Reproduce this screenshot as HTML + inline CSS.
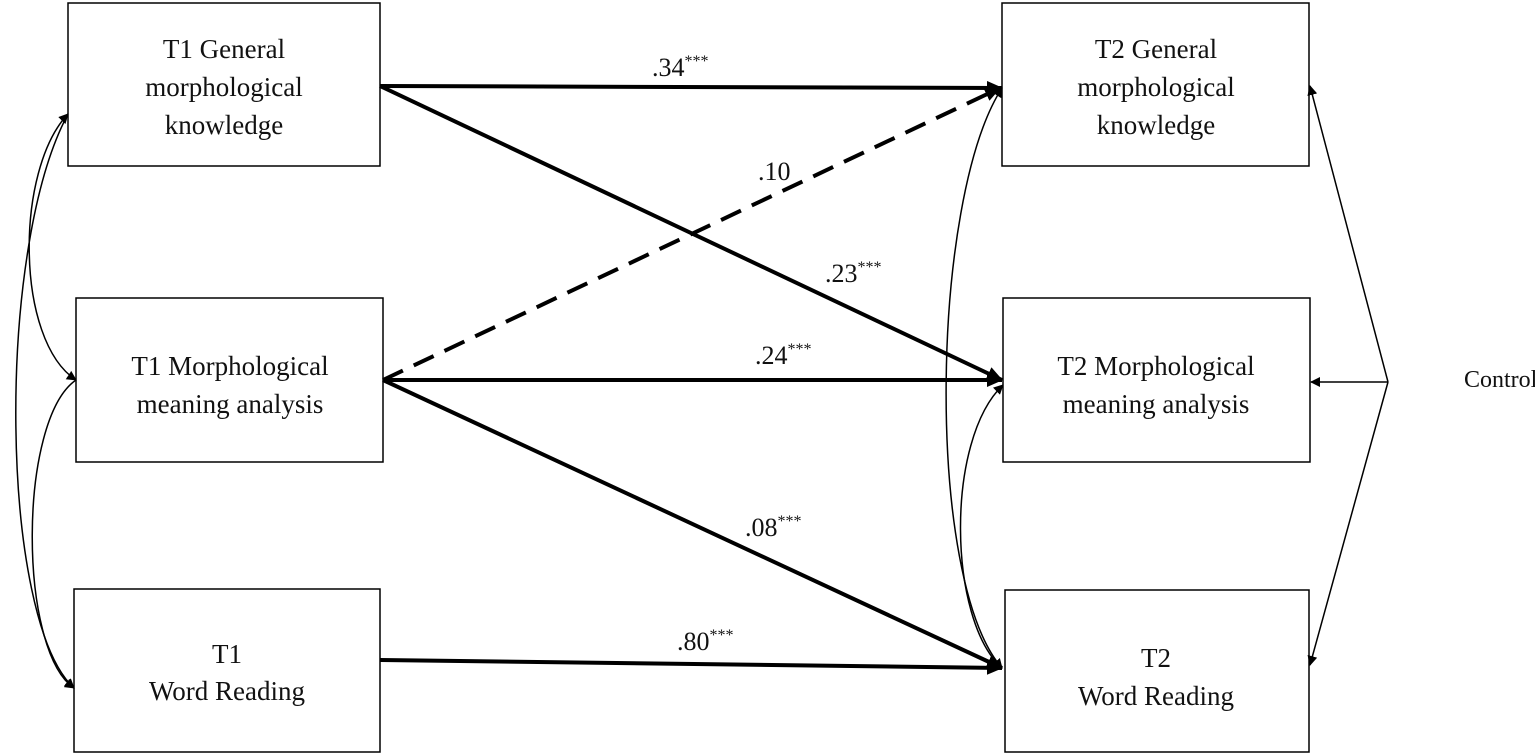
<!DOCTYPE html>
<html><head><style>
body{margin:0;background:#fff}
svg{display:block}
text{font-family:"Liberation Serif",serif;fill:#111}
</style></head><body>
<svg width="1535" height="755" viewBox="0 0 1535 755">
<defs>
<marker id="a" markerWidth="10" markerHeight="10" refX="9" refY="5" orient="auto-start-reverse" markerUnits="userSpaceOnUse"><path d="M0,0 L10,5 L0,10 z" fill="#000"/></marker>
<marker id="b" markerWidth="16" markerHeight="14" refX="15" refY="7" orient="auto" markerUnits="userSpaceOnUse"><path d="M0,0 L16,7 L0,14 z" fill="#000"/></marker>
</defs>
<g fill="#fff" stroke="#000" stroke-width="1.5">
<rect x="68" y="3" width="312" height="163"/>
<rect x="76" y="298" width="307" height="164"/>
<rect x="74" y="589" width="306" height="163"/>
<rect x="1002" y="3" width="307" height="163"/>
<rect x="1003" y="298" width="307" height="164"/>
<rect x="1005" y="590" width="304" height="162"/>
</g>
<g font-size="27" text-anchor="middle">
<text x="224" y="58">T1 General</text><text x="224" y="96">morphological</text><text x="224" y="134">knowledge</text>
<text x="230" y="375">T1 Morphological</text><text x="230" y="413">meaning  analysis</text>
<text x="227" y="663">T1</text><text x="227" y="700">Word Reading</text>
<text x="1156" y="58">T2 General</text><text x="1156" y="96">morphological</text><text x="1156" y="134">knowledge</text>
<text x="1156" y="375">T2 Morphological</text><text x="1156" y="413">meaning  analysis</text>
<text x="1156" y="667">T2</text><text x="1156" y="705">Word Reading</text>
</g>
<text x="1464" y="387" font-size="24">Control<tspan font-size="14" dy="-8">a</tspan></text>
<g stroke="#000" stroke-width="4" fill="none" marker-end="url(#b)">
<line x1="380" y1="86" x2="1002" y2="88"/>
<line x1="380" y1="86" x2="1002" y2="380"/>
<line x1="383" y1="380" x2="1002" y2="380"/>
<line x1="383" y1="380" x2="1002" y2="668"/>
<line x1="380" y1="660" x2="1002" y2="668"/>
<line x1="383" y1="380" x2="1000" y2="88" stroke-dasharray="22,12"/>
</g>
<g font-size="26">
<text x="652" y="76">.34<tspan font-size="16" dy="-10">***</tspan></text>
<text x="758" y="180">.10</text>
<text x="825" y="282">.23<tspan font-size="16" dy="-10">***</tspan></text>
<text x="755" y="364">.24<tspan font-size="16" dy="-10">***</tspan></text>
<text x="745" y="536">.08<tspan font-size="16" dy="-10">***</tspan></text>
<text x="677" y="650">.80<tspan font-size="16" dy="-10">***</tspan></text>
</g>
<g stroke="#000" stroke-width="1.5" fill="none">
<path d="M68,114 C15,170 15,340 76,380" marker-end="url(#a)" marker-start="url(#a)"/>
<path d="M76,380 C18,420 18,650 74,688" marker-end="url(#a)"/>
<path d="M68,114 C-5,250 0,620 74,688" marker-end="url(#a)"/>
<path d="M1002,88 C930,200 925,580 1002,668" marker-end="url(#a)" marker-start="url(#a)"/>
<path d="M1003,385 C945,440 948,620 1002,668" marker-start="url(#a)"/>
<line x1="1388" y1="382" x2="1310" y2="86" marker-end="url(#a)"/>
<line x1="1388" y1="382" x2="1311" y2="382" marker-end="url(#a)"/>
<line x1="1388" y1="382" x2="1310" y2="665" marker-end="url(#a)"/>
</g>
</svg>
</body></html>
